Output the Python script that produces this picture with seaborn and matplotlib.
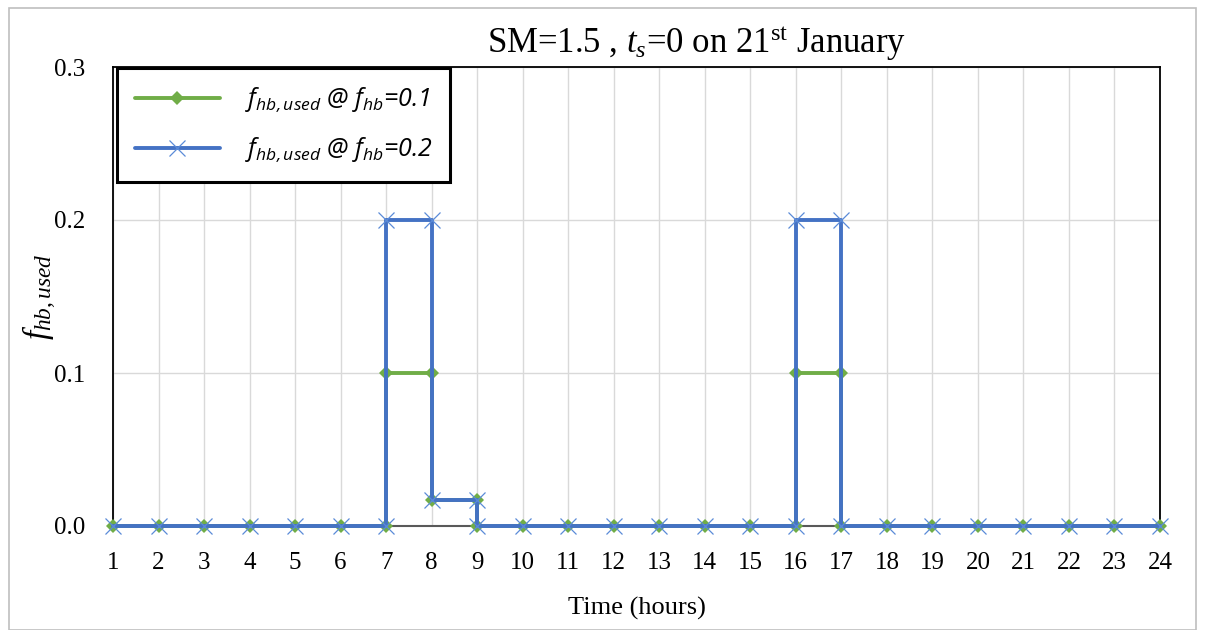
## step-like hourly chart of used heat-buffer fraction for two f_hb settings
import matplotlib
matplotlib.use('Agg')
import matplotlib.pyplot as plt
from matplotlib.patches import Rectangle
import pandas as pd
import seaborn as sns

sns.set_theme(style='white')
plt.rcParams['font.family'] = ['Liberation Serif', 'DejaVu Serif']
plt.rcParams['mathtext.fontset'] = 'custom'
plt.rcParams['mathtext.rm'] = 'Liberation Serif'
plt.rcParams['mathtext.it'] = 'Liberation Serif:italic'
plt.rcParams['mathtext.sf'] = 'Open Sans:italic'

# x values repeat where the curve jumps vertically
hours = [1, 2, 3, 4, 5, 6, 7, 7, 8, 8, 9, 9, 10, 11, 12, 13, 14, 15, 16, 16,
         17, 17, 18, 19, 20, 21, 22, 23, 24]
used_fhb_01 = [0, 0, 0, 0, 0, 0, 0, 0.1, 0.1, 0.0167, 0.0167, 0, 0, 0, 0, 0, 0, 0,
               0, 0.1, 0.1, 0, 0, 0, 0, 0, 0, 0, 0]
used_fhb_02 = [0, 0, 0, 0, 0, 0, 0, 0.2, 0.2, 0.0167, 0.0167, 0, 0, 0, 0, 0, 0, 0,
               0, 0.2, 0.2, 0, 0, 0, 0, 0, 0, 0, 0]
x_ticks = list(range(1, 25))
y_ticks = [0.0, 0.1, 0.2, 0.3]

label_01 = r'$\mathsf{f_{hb,used}}$ @ $\mathsf{f_{hb}}$=0.1'
label_02 = r'$\mathsf{f_{hb,used}}$ @ $\mathsf{f_{hb}}$=0.2'

df = pd.concat([
    pd.DataFrame({'Time': hours, 'Used': used_fhb_01, 'Series': label_01}),
    pd.DataFrame({'Time': hours, 'Used': used_fhb_02, 'Series': label_02}),
], ignore_index=True)

fig = plt.figure(figsize=(12.05, 6.3), dpi=100)
ax = fig.add_axes([113 / 1205, 1 - 526 / 630, (1160 - 113) / 1205, (526 - 67) / 630])

green = '#70AD47'
blue = '#4472C4'

sns.lineplot(data=df[df['Series'] == label_01], x='Time', y='Used', sort=False,
             estimator=None, color=green, lw=2.8, marker='D', markersize=7,
             markeredgewidth=0, label=label_01, ax=ax, zorder=3, clip_on=False)
sns.lineplot(data=df[df['Series'] == label_02], x='Time', y='Used', sort=False,
             estimator=None, color=blue, lw=2.8, marker='x', markersize=12,
             markeredgewidth=0.9, markeredgecolor='#5B8BD8', label=label_02,
             ax=ax, zorder=4, clip_on=False)

ax.set_xlim(1, 24)
ax.set_ylim(0, 0.3)
ax.set_xticks(x_ticks)
ax.set_yticks(y_ticks)
ax.set_yticklabels(['%.1f' % v for v in y_ticks])
ax.tick_params(axis='both', labelsize=18, length=0, colors='black')
ax.tick_params(axis='x', pad=19)
ax.tick_params(axis='y', pad=20)
ax.grid(True, color='#D9D9D9', lw=1)
ax.set_axisbelow(True)

for side in ['top', 'right', 'left']:
    ax.spines[side].set_color('black')
    ax.spines[side].set_linewidth(1.3)
ax.spines['bottom'].set_color('#595959')
ax.spines['bottom'].set_linewidth(1.5)

ax.set_xlabel('Time (hours)', fontsize=19, labelpad=16, color='black')
ax.set_ylabel(r'$f_{hb,used}$', fontsize=24, color='black')
ax.yaxis.set_label_coords(-0.052, 0.5)

leg = ax.legend(loc='upper left', bbox_to_anchor=(0.004, 0.998),
                frameon=True, fancybox=False, borderpad=0.7, labelspacing=0.85,
                handlelength=3.4, handletextpad=1.0, borderaxespad=0,
                prop={'family': 'Open Sans', 'style': 'italic', 'size': 18})
leg.get_frame().set_edgecolor('black')
leg.get_frame().set_linewidth(2.2)
leg.get_frame().set_alpha(1)
for t in leg.get_texts():
    t.set_color('black')

fig.text(697 / 1205, 1 - 44 / 630, r'SM=1.5 , $t_s$=0 on 21$^{\rm st}$ January',
         ha='center', va='center', fontsize=25, color='black')

# outer chart-area border
fig.patches.append(Rectangle((9 / 1205, 0), 1187 / 1205, 1 - 8 / 630,
                             transform=fig.transFigure, fill=False,
                             edgecolor='#BFBFBF', lw=1.2))

plt.savefig('out.png', dpi=100)
